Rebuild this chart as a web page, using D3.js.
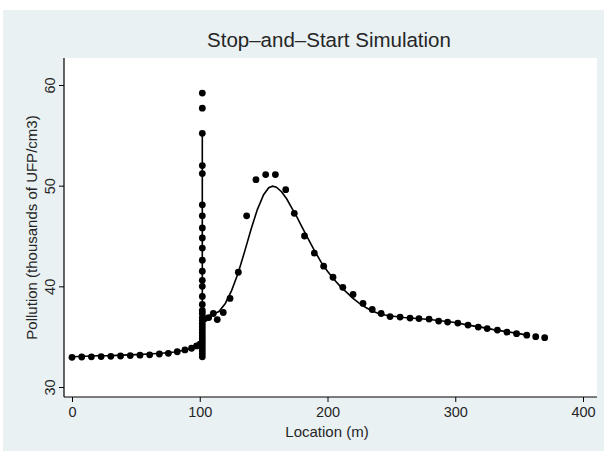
<!DOCTYPE html>
<html>
<head>
<meta charset="utf-8">
<script src="https://cdn.jsdelivr.net/npm/d3@7"></script>
<style>
  body { margin: 0; background: #ffffff; }
  text { font-family: "Liberation Sans", Arial, sans-serif; fill: #262626; }
</style>
</head>
<body>
<div id="chart"></div>
<script>
// Tick values
const xTicks = [0, 100, 200, 300, 400];
const yTicks = [30, 40, 50, 60];

// Observed pollution readings (dots): location in m, thousands of UFP/cm3
const obsX = [
  0, 7.6, 15.2, 22.8, 30.4, 38, 45.6, 53.2, 60.8, 68.4, 75.4, 82.4, 88.4, 93.6, 97.5, 100.2,
  102, 102, 102, 102, 102, 102, 102, 102, 102, 102, 102, 102, 102, 102, 102, 102,
  102, 102, 102, 102, 102, 102, 102, 102, 102, 102, 102, 102, 102, 102, 102, 102,
  104, 107, 110.6, 113.7, 118.4, 123.7, 130.2, 136.7, 144, 151.6, 159.2, 167.3, 174, 182,
  189.7, 197, 204.3, 212, 220, 227.8, 235, 242, 249, 256.8, 264.6, 271.6, 279.5, 287,
  294, 302, 310, 318, 325, 333, 340.5, 348, 356, 363, 370
];
const obsY = [
  32.95, 32.98, 33.0, 33.02, 33.05, 33.08, 33.12, 33.16, 33.2, 33.28, 33.35, 33.5, 33.68, 33.85, 34.08, 34.25,
  33.0, 33.3, 33.6, 33.9, 34.2, 34.5, 34.8, 35.1, 35.4, 35.7, 36.0, 36.3, 36.6, 36.9, 37.3, 37.6,
  38.2, 39.0, 40.0, 40.6, 41.5, 42.6, 43.8, 44.8, 45.8, 47.0, 48.1, 51.2, 52.0, 55.2, 57.7, 59.2,
  36.8, 36.9, 37.3, 36.7, 37.4, 38.8, 41.4, 47.0, 50.6, 51.1, 51.1, 49.6, 47.25, 45.0,
  43.3, 42.0, 40.9, 39.9, 39.2, 38.3, 37.7, 37.3, 37.0, 36.95, 36.85, 36.8, 36.75, 36.55,
  36.45, 36.35, 36.15, 35.95, 35.8, 35.65, 35.45, 35.3, 35.15, 35.0, 34.9
];

// Simulated (fitted) pollution curve
const fitX = [
  0, 10, 20, 30, 40, 50, 60, 70, 80, 88, 93, 97, 100, 102, 102, 102,
  105, 110, 115, 120, 125, 130, 135, 140, 145, 150, 154, 157, 160, 164, 168, 172,
  176, 180, 185, 190, 195, 200, 205, 210, 215, 220, 225, 230, 235, 240, 245, 250,
  260, 270, 280, 290, 300, 310, 320, 330, 340, 350, 356
];
const fitY = [
  33.0, 33.05, 33.1, 33.12, 33.17, 33.22, 33.28, 33.35, 33.48, 33.65, 33.85, 34.05, 34.3, 34.6, 55.2, 36.9,
  37.0, 37.2, 37.5, 38.3, 39.6, 41.3, 43.4, 45.6, 47.6, 49.1, 49.8, 49.95, 49.85, 49.4, 48.7, 47.8,
  46.9, 45.9, 44.7, 43.5, 42.4, 41.5, 40.7, 40.0, 39.4, 38.8, 38.3, 37.9, 37.55, 37.3, 37.15, 37.05,
  36.9, 36.8, 36.7, 36.55, 36.4, 36.15, 35.95, 35.7, 35.5, 35.3, 35.15
];

const W = 604, H = 451;
const plot = { left: 64, right: 597, top: 58, bottom: 397 };

const svg = d3.select("#chart").append("svg")
  .attr("width", W)
  .attr("height", H);

// Graph region and plot region
svg.append("rect").attr("x", 3).attr("y", 10).attr("width", W - 3).attr("height", H - 10)
  .attr("fill", "#e9f1f3");
svg.append("rect")
  .attr("x", plot.left).attr("y", plot.top)
  .attr("width", plot.right - plot.left).attr("height", plot.bottom - plot.top)
  .attr("fill", "#ffffff");

const x = d3.scaleLinear().domain([0, 400]).range([72, 583]);
const y = d3.scaleLinear().domain([30, 60]).range([387, 85]);

// Axes (Stata style: lines on plot edges, outward ticks)
const xAxis = svg.append("g")
  .attr("transform", `translate(0,${plot.bottom})`)
  .call(d3.axisBottom(x).tickValues(xTicks).tickSize(5).tickPadding(5).tickSizeOuter(0));
xAxis.select(".domain").remove();
xAxis.selectAll("text").attr("font-size", 14.5).attr("fill", "#262626");

const yAxis = svg.append("g")
  .attr("transform", `translate(${plot.left},0)`)
  .call(d3.axisLeft(y).tickValues(yTicks).tickSize(5).tickSizeOuter(0));
yAxis.select(".domain").remove();
yAxis.selectAll("text")
  .attr("font-size", 14.5)
  .attr("fill", "#262626")
  .attr("text-anchor", "middle")
  .attr("transform", "rotate(-90)")
  .attr("x", 0)
  .attr("y", -9)
  .attr("dy", 0);

svg.append("line")
  .attr("x1", plot.left).attr("x2", plot.right)
  .attr("y1", plot.bottom).attr("y2", plot.bottom)
  .attr("stroke", "#000").attr("stroke-width", 1.2);
svg.append("line")
  .attr("x1", plot.left).attr("x2", plot.left)
  .attr("y1", plot.top).attr("y2", plot.bottom)
  .attr("stroke", "#000").attr("stroke-width", 1.2);

// Fitted line
const fitData = fitX.map((d, i) => [d, fitY[i]]);
svg.append("path")
  .datum(fitData)
  .attr("fill", "none")
  .attr("stroke", "#000")
  .attr("stroke-width", 1.6)
  .attr("d", d3.line().x((d) => x(d[0])).y((d) => y(d[1])).curve(d3.curveLinear));

// Observed dots
const obsData = obsX.map((d, i) => [d, obsY[i]]);
svg.append("g")
  .selectAll("circle")
  .data(obsData)
  .join("circle")
  .attr("cx", (d) => x(d[0]))
  .attr("cy", (d) => y(d[1]))
  .attr("r", 3.4)
  .attr("fill", "#000");

// Titles
svg.append("text")
  .attr("x", 329).attr("y", 47)
  .attr("text-anchor", "middle")
  .attr("font-size", 20.5)
  .text("Stop\u2013and\u2013Start Simulation");

svg.append("text")
  .attr("x", 327).attr("y", 437)
  .attr("text-anchor", "middle")
  .attr("font-size", 15)
  .text("Location (m)");

svg.append("text")
  .attr("transform", `translate(37,${(plot.top + plot.bottom) / 2}) rotate(-90)`)
  .attr("text-anchor", "middle")
  .attr("font-size", 15)
  .text("Pollution (thousands of UFP/cm3)");
</script>
</body>
</html>
